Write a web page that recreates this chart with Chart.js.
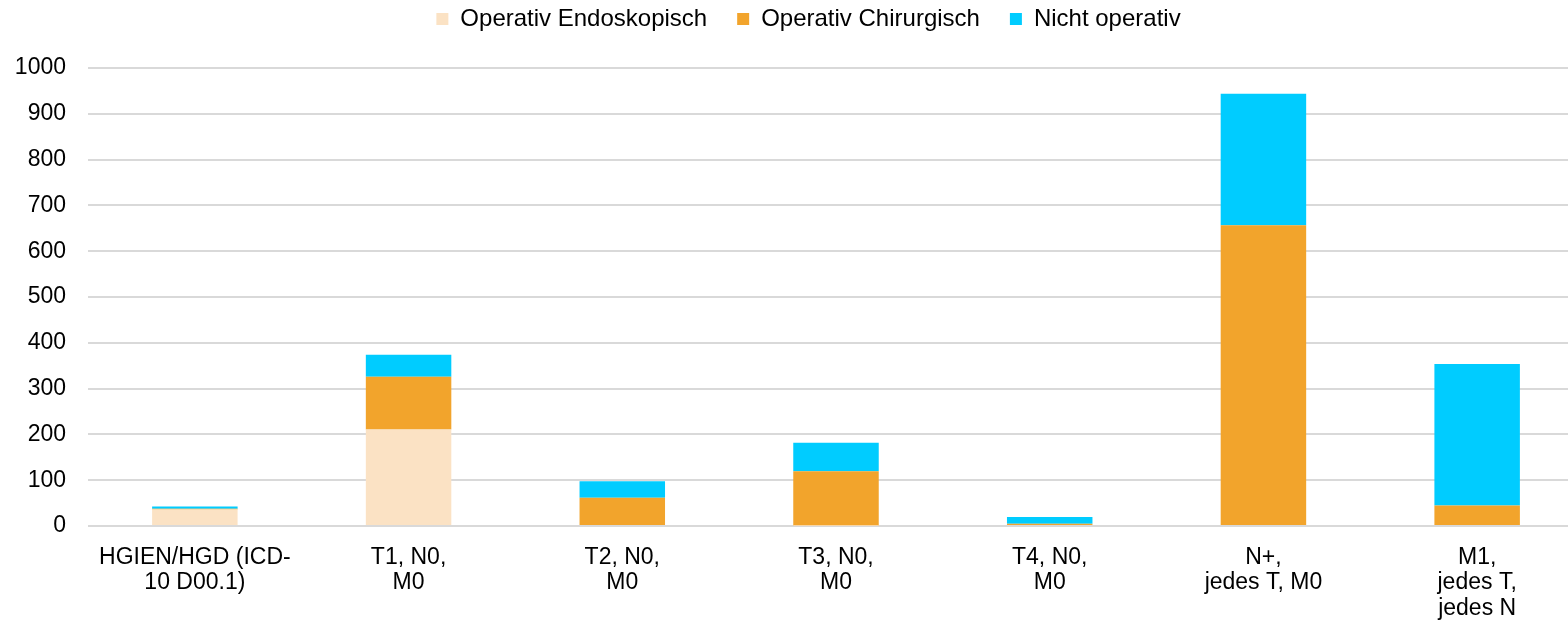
<!DOCTYPE html>
<html>
<head>
<meta charset="utf-8">
<script src="https://cdn.jsdelivr.net/npm/chart.js@4"></script>
<style>
    html, body { margin: 0; padding: 0; background: #fff; overflow: hidden; }
    #wrap { width: 1584px; height: 623px; }
</style>
</head>
<body>
<div id="wrap"><canvas id="stageChart" width="1584" height="623"></canvas></div>
<script>
let chartInstance;

const stages = [
    ['HGIEN/HGD (ICD-', '10 D00.1)'],
    ['T1, N0,', 'M0'],
    ['T2, N0,', 'M0'],
    ['T3, N0,', 'M0'],
    ['T4, N0,', 'M0'],
    ['N+,', 'jedes T, M0'],
    ['M1,', 'jedes T,', 'jedes N']
];
const endoskopisch = [36, 211, 0, 1, 0, 0, 0];
const chirurgisch = [2, 115, 62, 119, 5, 657, 45];
const nichtOperativ = [5, 48, 36, 62, 15, 287, 309];
const yTicks = [0, 100, 200, 300, 400, 500, 600, 700, 800, 900, 1000];

const fontFamily = '"Liberation Sans", Arial, sans-serif';

// more room under the legend, and the legend sits a bit to the right
const legendGap = {
    id: 'legendGap',
    beforeLayout(chart) {
        const legend = chart.legend;
        if (!legend || legend._gapPatched) return;
        const fit = legend.fit;
        legend.fit = function () {
            fit.call(this);
            this.height += 27;
        };
        legend._gapPatched = true;
    },
    afterLayout(chart) {
        if (!chart.legend) return;
        chart.legend.left += 9;
        chart.legend.right += 9;
    }
};

function populateChartData() {
    return {
        labels: stages,
        datasets: [
            {
                label: 'Operativ Endoskopisch',
                data: endoskopisch,
                backgroundColor: '#FBE2C4'
            },
            {
                label: 'Operativ Chirurgisch',
                data: chirurgisch,
                backgroundColor: '#F2A42C'
            },
            {
                label: 'Nicht operativ',
                data: nichtOperativ,
                backgroundColor: '#00CCFF'
            }
        ]
    };
}

function createChart(ctx, chartData) {
    return new Chart(ctx, {
        type: 'bar',
        data: chartData,
        plugins: [legendGap],
        options: {
            responsive: false,
            animation: false,
            categoryPercentage: 1,
            barPercentage: 0.4,
            layout: {
                padding: { left: 15, right: 0, top: -23, bottom: -9 }
            },
            scales: {
                x: {
                    stacked: true,
                    grid: { display: false },
                    border: { display: false },
                    ticks: {
                        color: '#000',
                        padding: 11,
                        maxRotation: 0,
                        autoSkip: false,
                        font: { family: fontFamily, size: 23, lineHeight: 1.1 }
                    }
                },
                y: {
                    stacked: true,
                    min: 0,
                    max: 1000,
                    afterBuildTicks: (axis) => {
                        axis.ticks = yTicks.map(v => ({ value: v }));
                    },
                    afterFit: (axis) => {
                        axis.width = 73;
                    },
                    grid: { color: '#D9D9D9', lineWidth: 2, drawTicks: false },
                    border: { display: false },
                    ticks: {
                        color: '#000',
                        padding: 22,
                        callback: (value) => String(value),
                        font: { family: fontFamily, size: 23 }
                    }
                }
            },
            plugins: {
                legend: {
                    position: 'top',
                    labels: {
                        color: '#000',
                        boxWidth: 12,
                        boxHeight: 12,
                        padding: 30,
                        font: { family: fontFamily, size: 24 }
                    }
                },
                tooltip: { enabled: false }
            }
        }
    });
}

document.addEventListener('DOMContentLoaded', () => {
    const ctx = document.getElementById('stageChart').getContext('2d');
    const chartData = populateChartData();

    chartInstance = createChart(ctx, chartData);
});
</script>
</body>
</html>
